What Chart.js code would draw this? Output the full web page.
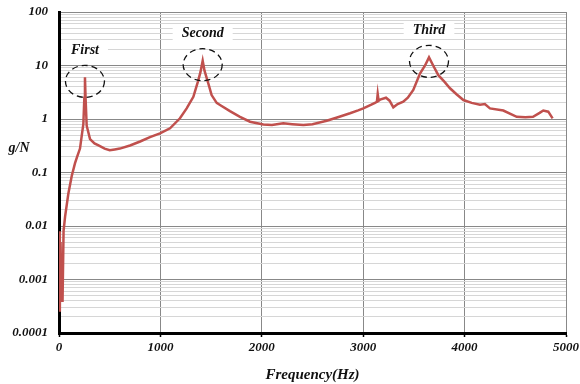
<!DOCTYPE html>
<html>
<head>
<meta charset="utf-8">
<script src="https://cdn.jsdelivr.net/npm/chart.js"></script>
<style>
  body { margin: 0; background: #fff; }
</style>
</head>
<body>
<canvas id="frfChart" width="580" height="384"></canvas>
<script>
// frequency response
const freqHz = [0, 8, 15, 25, 35, 45, 60, 92, 125, 158, 180, 207, 225, 240, 250, 256, 262, 273, 306, 350, 390, 450, 500, 550, 600, 700, 800, 897, 996, 1095, 1193, 1259, 1325, 1370, 1395, 1417, 1435, 1473, 1505, 1555, 1588, 1686, 1785, 1884, 2015, 2100, 2212, 2300, 2410, 2500, 2640, 2750, 2870, 2950, 3001, 3080, 3116, 3135, 3143, 3152, 3166, 3225, 3260, 3297, 3340, 3395, 3440, 3494, 3560, 3610, 3649, 3690, 3741, 3800, 3856, 3920, 3988, 4070, 4152, 4200, 4250, 4382, 4514, 4600, 4675, 4740, 4776, 4825, 4868];
const gPerN = [0.008, 0.00025, 0.005, 0.0004, 0.0004, 0.008, 0.015, 0.04, 0.085, 0.15, 0.2, 0.28, 0.5, 0.8, 2.5, 6.0, 2.5, 0.75, 0.42, 0.35, 0.32, 0.28, 0.26, 0.27, 0.28, 0.32, 0.38, 0.46, 0.54, 0.67, 1.03, 1.58, 2.6, 5.0, 7.5, 12.3, 8.0, 4.6, 2.8, 2.0, 1.83, 1.4, 1.1, 0.89, 0.79, 0.77, 0.83, 0.8, 0.77, 0.8, 0.93, 1.08, 1.28, 1.45, 1.58, 1.85, 2.0, 2.1, 2.95, 2.2, 2.3, 2.5, 2.2, 1.65, 1.9, 2.1, 2.5, 3.5, 7.1, 10.0, 14.2, 10.0, 6.6, 5.0, 3.75, 2.9, 2.26, 2.0, 1.85, 1.9, 1.58, 1.44, 1.1, 1.08, 1.1, 1.3, 1.44, 1.37, 1.03];

const xTicks = [0, 1000, 2000, 3000, 4000, 5000];
const xTickLabels = ['0', '1000', '2000', '3000', '4000', '5000'];
const yDecades = [0.0001, 0.001, 0.01, 0.1, 1, 10, 100];
const yTickLabels = ['0.0001', '0.001', '0.01', '0.1', '1', '10', '100'];

const peakNames = ['First', 'Second', 'Third'];
const peakFreq = [256, 1417, 3649];
const peakGain = [6.0, 12.3, 14.2];

const tickFont = { family: 'Liberation Serif', size: 13, weight: 'bold', style: 'italic' };

function decadeIndex(v) {
  return yDecades.findIndex((d) => Math.abs(v - d) / d < 1e-6);
}

// dashed circles and names over the three modes, plus the flat y title
const peakNotes = {
  id: 'peakNotes',
  afterDatasetsDraw(chart) {
    const ctx = chart.ctx;
    const xs = chart.scales.x;
    const ys = chart.scales.y;
    ctx.save();
    ctx.font = 'italic bold 14px "Liberation Serif"';
    ctx.textAlign = 'center';
    ctx.textBaseline = 'middle';
    peakNames.forEach((name, i) => {
      const px = xs.getPixelForValue(peakFreq[i]);
      const py = ys.getPixelForValue(peakGain[i]);
      const ly = py - 27;
      const w = ctx.measureText(name).width + 18;
      ctx.fillStyle = '#fff';
      ctx.fillRect(px - w / 2, ly - 8, w, 16);
      ctx.fillStyle = '#111';
      ctx.fillText(name, px, ly);

      ctx.beginPath();
      ctx.setLineDash([6, 4]);
      ctx.lineWidth = 1.3;
      ctx.strokeStyle = '#111';
      ctx.ellipse(px, py + 4, 19.5, 16, 0, 0, Math.PI * 2);
      ctx.stroke();
      ctx.setLineDash([]);
    });
    ctx.fillStyle = '#111';
    ctx.fillText('g/N', 19, 148);
    ctx.restore();
  }
};

new Chart(document.getElementById('frfChart'), {
  type: 'line',
  data: {
    datasets: [{
      data: freqHz.map((f, i) => ({ x: f, y: gPerN[i] })),
      borderColor: '#c0504d',
      borderWidth: 2.5,
      pointRadius: 0,
      tension: 0
    }]
  },
  options: {
    responsive: false,
    animation: false,
    layout: { padding: { left: 0, right: 14, top: 12, bottom: 0 } },
    plugins: { legend: { display: false }, tooltip: { enabled: false } },
    scales: {
      x: {
        type: 'linear',
        min: 0,
        max: 5000,
        afterBuildTicks: (scale) => { scale.ticks = xTicks.map((v) => ({ value: v })); },
        afterFit: (scale) => {
          scale.height = 51;
          scale.paddingLeft = 0;
          scale.paddingRight = 0;
        },
        border: { color: '#000', width: 3 },
        grid: { color: '#888', lineWidth: 1, tickLength: 4, tickColor: '#000', tickWidth: 1.5 },
        ticks: {
          color: '#111',
          font: tickFont,
          padding: 3,
          maxRotation: 0,
          autoSkip: false,
          callback: (v) => xTickLabels[xTicks.indexOf(v)]
        },
        title: {
          display: true,
          text: 'Frequency(Hz)',
          color: '#111',
          font: { family: 'Liberation Serif', size: 15, weight: 'bold', style: 'italic' },
          padding: { top: 0, bottom: 0 }
        }
      },
      y: {
        type: 'logarithmic',
        min: 0.0001,
        max: 100,
        afterBuildTicks: (scale) => {
          const t = [];
          yDecades.forEach((d, i) => {
            const last = i === yDecades.length - 1;
            for (let m = 1; m <= (last ? 1 : 9); m++) t.push({ value: m * d });
          });
          scale.ticks = t;
        },
        afterFit: (scale) => {
          scale.width = 59;
          scale.paddingTop = 0;
          scale.paddingBottom = 0;
        },
        border: { color: '#000', width: 3 },
        grid: {
          drawTicks: false,
          lineWidth: 1,
          color: (c) => (c.tick && decadeIndex(c.tick.value) >= 0 ? '#888' : '#d6d6d6')
        },
        ticks: {
          autoSkip: false,
          color: '#111',
          font: tickFont,
          padding: 11,
          callback: (v) => {
            const i = decadeIndex(v);
            return i >= 0 ? yTickLabels[i] : '';
          }
        }
      }
    }
  },
  plugins: [peakNotes]
});
</script>
</body>
</html>
